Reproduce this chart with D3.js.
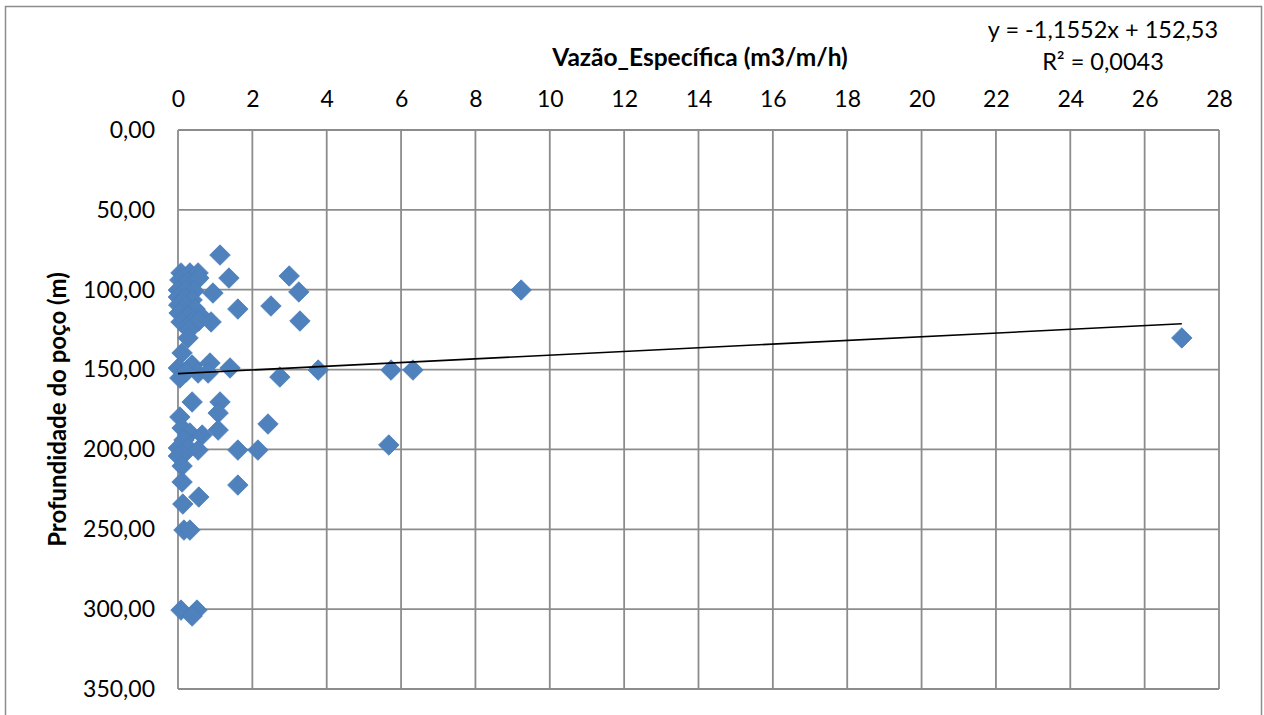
<!DOCTYPE html>
<html>
<head>
<meta charset="utf-8">
<script src="https://cdn.jsdelivr.net/npm/d3@7"></script>
<style>
  html, body { margin: 0; padding: 0; background: #fff; }
  svg { display: block; }
  text { font-family: Lato, "Open Sans", sans-serif; fill: #000; }
</style>
</head>
<body>
<svg id="chart" width="1264" height="715"></svg>
<script>
// Specific capacity (m3/m/h) of each well
const vazaoEspecifica = [
  0.08, 0.32, 0.54, 0.05, 0.27, 0.51, 0.56, 0.01, 0.22, 0.43,
  0.01, 0.19, 0.38, 0.02, 0.22, 0.46, 0.62, 0.03, 0.27, 0.08,
  0.35, 0.56, 0.30, 0.27, 0.11,
  1.13, 1.37, 0.94, 1.61, 0.89, 2.50, 2.99, 3.25, 3.28, 9.23, 27.0,
  0.01, 0.05, 0.38, 0.54, 0.22, 0.86, 0.81, 1.40, 2.74, 3.77, 5.73, 6.32,
  0.38, 1.13, 1.08, 1.08, 2.42, 0.05, 0.11, 0.32, 0.65, 0.16, 0.01, 0.27,
  0.54, 0.13, 0.01, 2.15, 1.61, 5.67, 0.11, 1.61, 0.11, 0.56, 0.13,
  0.16, 0.32, 0.08, 0.51, 0.38
];
// Well depth (m) of each well, same order
const profundidade = [
  89.5, 89.5, 89.5, 93.9, 95.2, 93.9, 92.7, 100.2, 100.2, 100.8,
  104.6, 105.2, 106.4, 109.6, 110.2, 112.1, 116.5, 114.6, 116.5, 120.2,
  120.9, 119.6, 125.2, 130.2, 139.6,
  78.3, 92.7, 102.1, 112.1, 120.2, 110.2, 91.4, 101.4, 119.6, 100.2, 130.2,
  149.0, 155.3, 147.2, 152.2, 151.5, 145.9, 152.2, 149.0, 154.7, 150.3, 150.3, 150.3,
  170.3, 170.3, 177.2, 187.9, 184.1, 179.7, 186.6, 189.7, 191.0, 194.1, 199.1, 199.1,
  200.4, 203.5, 204.1, 200.4, 200.4, 197.2, 210.4, 222.3, 220.4, 229.8, 234.2,
  250.5, 250.5, 300.6, 300.6, 304.3
];

// Axis ticks
const xTicks = [0, 2, 4, 6, 8, 10, 12, 14, 16, 18, 20, 22, 24, 26, 28];
const yTicks = [0, 50, 100, 150, 200, 250, 300, 350];

// Linear trend (least squares) as printed on the chart
const trendSlope = -1.1552;
const trendIntercept = 152.53;
const trendR2 = 0.0043;

const xTitle = "Vazão_Específica (m3/m/h)";
const yTitle = "Profundidade do poço (m)";

const svg = d3.select("#chart");
const plot = { left: 178, top: 130, right: 1219, bottom: 689 };

const x = d3.scaleLinear().domain([0, 28]).range([plot.left, plot.right]);
const y = d3.scaleLinear().domain([0, 350]).range([plot.top, plot.bottom]);

const gridColor = "#8c8c8c";
const fmtComma = v => d3.format(".2f")(v).replace(".", ",");

// Outer chart frame
svg.append("rect")
  .attr("x", 5.5).attr("y", 6.5)
  .attr("width", 1256).attr("height", 740)
  .attr("fill", "none").attr("stroke", "#8c8c8c").attr("stroke-width", 1.5);

// Gridlines
const grid = svg.append("g");
grid.selectAll("line.v").data(xTicks).join("line")
  .attr("x1", d => x(d)).attr("x2", d => x(d))
  .attr("y1", plot.top).attr("y2", plot.bottom)
  .attr("stroke", gridColor).attr("stroke-width", 1.8);
grid.selectAll("line.h").data(yTicks).join("line")
  .attr("x1", plot.left).attr("x2", plot.right)
  .attr("y1", d => y(d)).attr("y2", d => y(d))
  .attr("stroke", gridColor).attr("stroke-width", 1.8);

// Top x-axis
const xAxis = svg.append("g")
  .attr("transform", `translate(0,${plot.top})`)
  .call(d3.axisTop(x).tickValues(xTicks).tickSize(0).tickPadding(23).tickFormat(d3.format("d")));
xAxis.select(".domain").remove();
xAxis.selectAll("text").style("font-size", "23px").style("font-family", "Lato, sans-serif");

// Left y-axis (depth increases downward)
const yAxis = svg.append("g")
  .attr("transform", `translate(${plot.left},0)`)
  .call(d3.axisLeft(y).tickValues(yTicks).tickSize(0).tickPadding(23).tickFormat(fmtComma));
yAxis.select(".domain").remove();
yAxis.selectAll("text").style("font-size", "23px").style("font-family", "Lato, sans-serif");

// Axis titles
svg.append("text")
  .attr("x", 700).attr("y", 66)
  .attr("text-anchor", "middle")
  .style("font-size", "24.5px").style("font-weight", "bold")
  .text(xTitle);
svg.append("text")
  .attr("transform", `translate(66,${(plot.top + plot.bottom) / 2}) rotate(-90)`)
  .attr("text-anchor", "middle")
  .style("font-size", "24px").style("font-weight", "bold")
  .text(yTitle);

// Data points: diamonds
const pts = vazaoEspecifica.map((v, i) => ({ x: v, y: profundidade[i] }));
const diamond = d3.symbol().type(d3.symbolSquare).size(210);
svg.append("g").selectAll("path").data(pts).join("path")
  .attr("d", diamond)
  .attr("transform", d => `translate(${x(d.x)},${y(d.y)}) rotate(45)`)
  .attr("fill", "#4f81bd")
  .attr("stroke", "#4a7ebb")
  .attr("stroke-width", 0.8);

// Trend line from the origin to the largest specific capacity
const xMax = d3.max(vazaoEspecifica);
svg.append("line")
  .attr("x1", x(0)).attr("y1", y(trendIntercept))
  .attr("x2", x(xMax)).attr("y2", y(trendSlope * xMax + trendIntercept))
  .attr("stroke", "#000").attr("stroke-width", 1.6);

// Trend equation and R²
const eqFmt = v => String(v).replace(".", ",");
svg.append("text")
  .attr("x", 1103).attr("y", 38)
  .attr("text-anchor", "middle")
  .style("font-size", "23.5px")
  .text(`y = ${eqFmt(trendSlope)}x + ${eqFmt(trendIntercept)}`);
svg.append("text")
  .attr("x", 1103).attr("y", 70)
  .attr("text-anchor", "middle")
  .style("font-size", "23.5px")
  .text(`R² = ${d3.format(".4f")(trendR2).replace(".", ",")}`);
</script>
</body>
</html>
